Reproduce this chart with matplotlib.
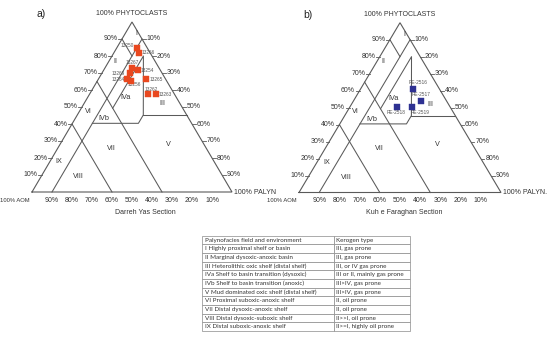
import numpy as np
import matplotlib
matplotlib.use("Agg")
import matplotlib.pyplot as plt

plt.rcParams["font.family"] = ["Liberation Sans", "DejaVu Sans"]

# samples: phytoclasts %, palynomorphs % (AOM is the remainder)
darreh_ids = ["13250", "13266", "13267", "13254", "13269", "13264", "13256", "13265", "13262", "13263"]
darreh_phyto = [84.5, 82, 73, 71.5, 70, 66.5, 65.5, 66.5, 57.5, 57.5]
darreh_palyn = [10, 12.5, 13.5, 17, 14, 14, 16.5, 23.5, 29, 33]

kuh_ids = ["RE-2516", "RE-2517", "RE-2519", "RE-2518"]
kuh_phyto = [61, 54, 50.5, 50.5]
kuh_palyn = [26, 33.5, 30.5, 23.5]

# Tyson field boundaries, vertices as (phyto %, palyn %)
field_lines = [
    [(40, 0), (0, 40)],
    [(65, 0), (0, 65)],
    [(0, 10), (90, 10)],
    [(90, 0), (80, 10)],
    [(49.3, 15.7), (80, 15.7), (45.3, 33), (40.4, 33), (40.4, 10)],
    [(45.3, 33), (45.3, 54.7)],
]
field_names = ["I", "II", "III", "IVa", "IVb", "V", "VI", "VII", "VIII", "IX"]
field_phyto = [93, 77, 52, 55.3, 43, 28, 47.5, 25.7, 9, 17.7]
field_palyn = [5.5, 3.3, 39, 19, 14.5, 54.3, 4.3, 26.8, 18.8, 4.8]

edge_ticks = [90, 80, 70, 60, 50, 40, 30, 20, 10]

table_rows = [
    ["Palynofacies field and environment", "Kerogen type"],
    ["I Highly proximal shelf or basin", "III, gas prone"],
    ["II Marginal dysoxic-anoxic basin", "III, gas prone"],
    ["III Heterolithic oxic shelf (distal shelf)", "III, or IV gas prone"],
    ["IVa Shelf to basin transition (dysoxic)", "III or II, mainly gas prone"],
    ["IVb Shelf to basin transition (anoxic)", "III>IV, gas prone"],
    ["V Mud dominated oxic shelf (distal shelf)", "III>IV, gas prone"],
    ["VI Proximal suboxic-anoxic shelf", "II, oil prone"],
    ["VII Distal dysoxic-anoxic shelf", "II, oil prone"],
    ["VIII Distal dysoxic-suboxic shelf", "II>>I, oil prone"],
    ["IX Distal suboxic-anoxic shelf", "II>=I, highly oil prone"],
]

W, HP = 550, 338
PT = 0.72  # points per pixel at dpi 100
LINE = "#5a5a5a"
TXT = "#333333"


def tern(phyto, palyn):
    p = np.asarray(phyto, dtype=float) / 100.0
    m = np.asarray(palyn, dtype=float) / 100.0
    return m + p / 2, p


def make_ax(fig, left, right, top, bottom, x0, x1, base_y, apex_y):
    ax = fig.add_axes([left / W, 1 - bottom / HP, (right - left) / W, (bottom - top) / HP])
    ax.set_xlim((left - x0) / (x1 - x0), (right - x0) / (x1 - x0))
    ax.set_ylim((base_y - bottom) / (base_y - apex_y), (base_y - top) / (base_y - apex_y))
    ax.axis("off")
    return ax


def draw_ternary(ax, ids, phyto, palyn, color, offsets, tag, section, palyn_text, section_x):
    ax.plot([0, 1, 0.5, 0], [0, 0, 1, 0], color=LINE, lw=0.8, solid_joinstyle="miter")
    for seg in field_lines:
        x, y = tern([v[0] for v in seg], [v[1] for v in seg])
        ax.plot(x, y, color=LINE, lw=0.75)

    for name, fp, fm in zip(field_names, field_phyto, field_palyn):
        x, y = tern(fp, fm)
        ax.text(x, y, name, fontsize=5.2, color=TXT, ha="center", va="center")

    for v in edge_ticks:
        # left edge: phytoclasts
        x, y = tern(v, 0)
        ax.plot([x - 0.018, x], [y, y], color=LINE, lw=0.6)
        ax.annotate(f"{v}%", (x, y), xytext=(-4.5 * PT, 0), textcoords="offset points",
                    ha="right", va="center", fontsize=5, color=TXT)
        # right edge: palynomorphs
        x, y = tern(100 - v, v)
        ax.plot([x, x + 0.018], [y, y], color=LINE, lw=0.6)
        ax.annotate(f"{v}%", (x, y), xytext=(4.5 * PT, 0), textcoords="offset points",
                    ha="left", va="center", fontsize=5, color=TXT)
        # base: AOM
        x, y = tern(0, 100 - v)
        ax.annotate(f"{v}%", (x, y), xytext=(0, -8 * PT), textcoords="offset points",
                    ha="center", va="center", fontsize=5, color=TXT)

    ax.annotate("100% AOM", (0, 0), xytext=(-2.5 * PT, -8 * PT), textcoords="offset points",
                ha="right", va="center", fontsize=4.2, color=TXT)
    ax.annotate(palyn_text, (1, 0), xytext=(2 * PT, 0), textcoords="offset points",
                ha="left", va="center", fontsize=5, color=TXT)
    ax.annotate("100% PHYTOCLASTS", (0.5, 1), xytext=(0, 8.5 * PT), textcoords="offset points",
                ha="center", va="center", fontsize=5, color=TXT)
    ax.annotate(section, (section_x, 0), xytext=(0, -20.5 * PT), textcoords="offset points",
                ha="center", va="center", fontsize=5, color=TXT)
    ax.annotate(tag, (0, 1), xytext=(9 * PT, 8 * PT), textcoords="offset points",
                ha="center", va="center", fontsize=7.5, color="#222222")

    x, y = tern(phyto, palyn)
    ax.plot(x, y, "s", ms=4.2, color=color, mec=color, mew=0.3, ls="none", zorder=5)
    for sid, xi, yi in zip(ids, x, y):
        dx, dy, ha = offsets[sid]
        ax.annotate(sid, (xi, yi), xytext=(dx * PT, dy * PT), textcoords="offset points",
                    ha=ha, va="center", fontsize=3.4, color="#555555")


fig = plt.figure(figsize=(W / 100, HP / 100), dpi=100)
fig.patch.set_facecolor("white")

ax_a = make_ax(fig, 0, 275, 0, 225, 32, 232, 192, 22)
darreh_offsets = {
    "13250": (-3, 3, "right"), "13266": (3, 0.5, "left"), "13267": (0, 5, "center"),
    "13254": (3, 0, "left"), "13269": (-5, -0.5, "right"), "13264": (-2, -1, "right"),
    "13256": (4, -3.5, "center"), "13265": (4, -0.5, "left"), "13262": (3.5, 5, "center"),
    "13263": (3, 0, "left"),
}
draw_ternary(ax_a, darreh_ids, darreh_phyto, darreh_palyn, "#e9481f", darreh_offsets,
             "a)", "Darreh Yas Section", "100% PALYN", 0.565)

ax_b = make_ax(fig, 275, 550, 0, 225, 299, 501, 192.5, 22.7)
kuh_offsets = {
    "RE-2516": (4.5, 6, "center"), "RE-2517": (0, 6, "center"),
    "RE-2519": (8, -5.3, "center"), "RE-2518": (-1.5, -5.7, "center"),
}
draw_ternary(ax_b, kuh_ids, kuh_phyto, kuh_palyn, "#2e3192", kuh_offsets,
             "b)", "Kuh e Faraghan Section", "100% PALYN.", 0.52)

# table of fields
ax_t = fig.add_axes([201.7 / W, 1 - 331 / HP, (410 - 201.7) / W, (331 - 235.7) / HP])
ax_t.axis("off")
tbl = ax_t.table(cellText=table_rows, colWidths=[0.635, 0.365], cellLoc="left",
                 bbox=[0, 0, 1, 1])
tbl.auto_set_font_size(False)
tbl.set_fontsize(4.5)
for (r, c), cell in tbl.get_celld().items():
    cell.set_edgecolor("#8a8a8a")
    cell.set_linewidth(0.5)
    cell.PAD = 0.025
    cell.get_text().set_color("#333333")
    cell.get_text().set_fontfamily(["Lato", "DejaVu Sans"])

fig.savefig("out.png", dpi=100, facecolor="white")
